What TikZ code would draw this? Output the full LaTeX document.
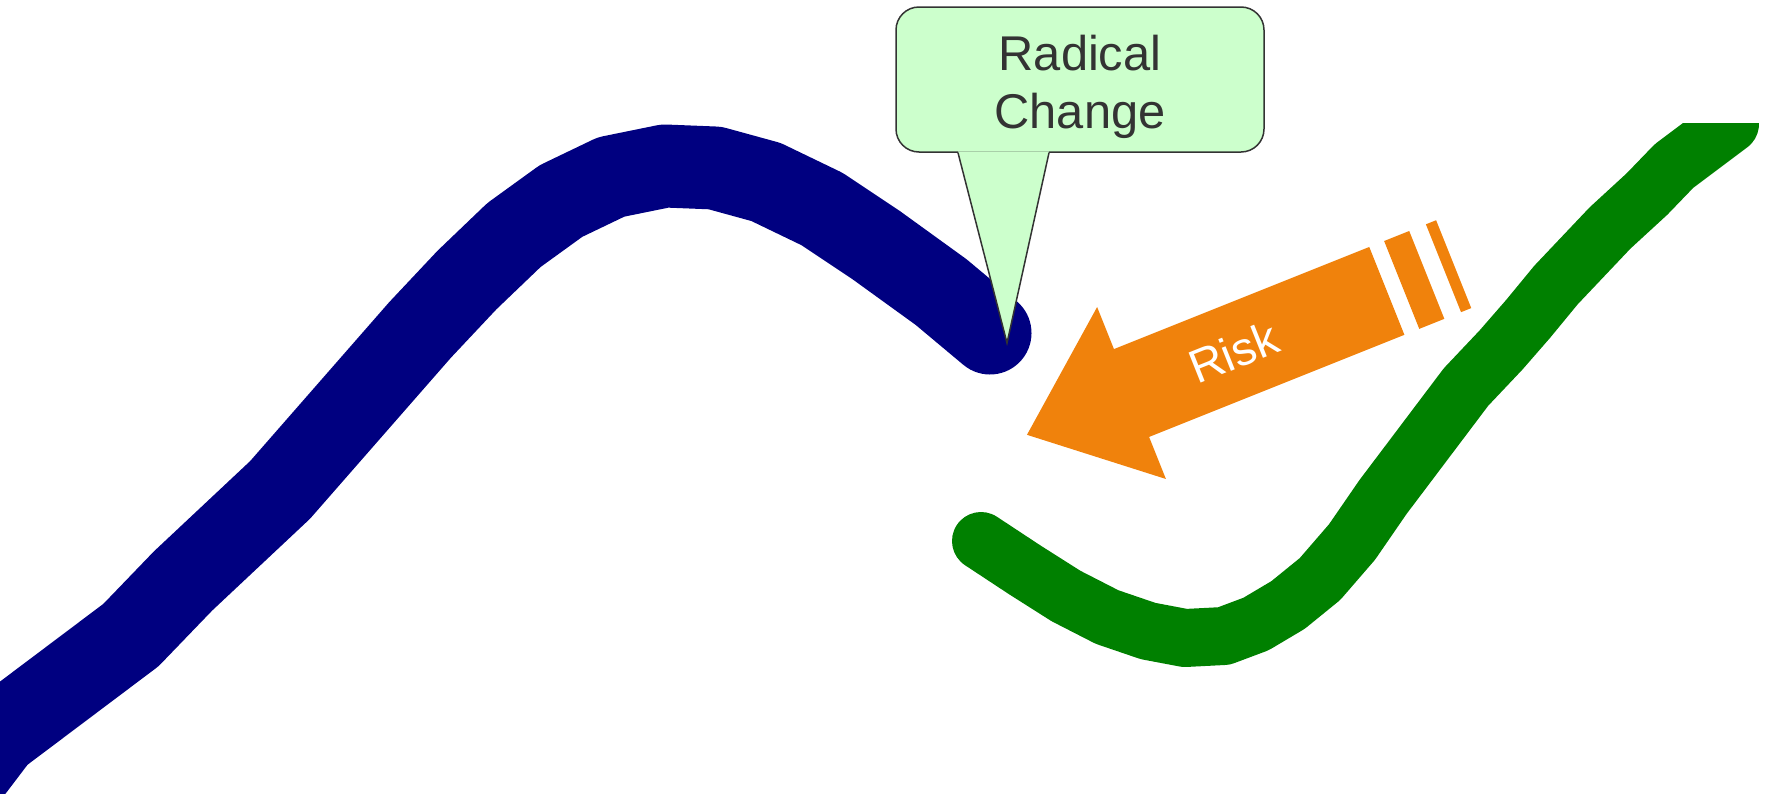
\documentclass[tikz,border=0pt]{standalone}
\usepackage{fontspec}
\setmainfont{Liberation Sans}
\usetikzlibrary{calc,positioning}

\definecolor{trendblue}{RGB}{0,0,128}
\definecolor{trendgreen}{RGB}{0,128,0}
\definecolor{riskorange}{RGB}{240,130,12}
\definecolor{bubblefill}{RGB}{204,255,204}
\definecolor{bubbleline}{RGB}{51,51,51}

\tikzset{
    trend/.style={line width=#1, line cap=round, line join=round},
    bubble/.style={draw=bubbleline, fill=bubblefill, line width=0.75pt,
        rounded corners=11.5pt, minimum width=184pt, minimum height=72.5pt,
        inner sep=0pt},
    bubblelabel/.style={inner sep=0pt, align=center, text=bubbleline,
        font=\fontsize{24.4}{29}\selectfont},
    risklabel/.style={text=white, inner sep=0pt,
        font=\fontsize{23.5}{26}\selectfont},
}

\begin{document}
\begin{tikzpicture}[x=0.5pt, y=-0.5pt]
    \useasboundingbox (0,0) rectangle (1766,793);

    \begin{scope}
        \clip (0,123) rectangle (1766,793);
        \draw[trend=41.5pt, trendblue] (-40,785) -- (-2,735) -- (131,635) -- (183,581)
            -- (280,490) -- (420,330) -- (467,280) -- (514,235) -- (561,201)
            -- (611,177) -- (665,166) -- (715,168) -- (766,182) -- (822,209)
            -- (876,245) -- (941,292) -- (990,333);
        \draw[trend=29pt, trendgreen] (981,541) -- (1025,570) -- (1066,596)
            -- (1107,617) -- (1148,631) -- (1185,638) -- (1224,636) -- (1256,624)
            -- (1288,605) -- (1320,579) -- (1352,542) -- (1383,497) -- (1423,444)
            -- (1466,387) -- (1501,350) -- (1528,319) -- (1556,285) -- (1610,228)
            -- (1647,194) -- (1674,166) -- (1730,124);
    \end{scope}

    \begin{scope}[shift={(1131.5,393)}, rotate=21.8]
        \fill[riskorange] (-112.6,0) -- (0,-92.6) -- (0,-47.3) -- (275,-47.3)
            -- (275,47.3) -- (0,47.3) -- (0,92.6) -- cycle;
        \fill[riskorange] (291,-47.3) rectangle (318,47.3);
        \fill[riskorange] (336,-47.3) rectangle (347,47.3);
        \node[risklabel, rotate=21.8] (risk) at (110,0) {Risk};
    \end{scope}

    \node[bubble] (radical) at (1080,79.5) {};
    \node[bubblelabel] (radicaltext) at ([yshift=-3.5pt]radical.center) {Radical\\Change};
    \coordinate (tip) at (1007,343);
    \fill[bubblefill] ($(radical.south)+(-122,-1.5)$) -- (tip)
        -- ($(radical.south)+(-31,-1.5)$) -- cycle;
    \draw[bubbleline, line width=0.75pt, line join=miter]
        ($(radical.south)+(-122,0)$) -- (tip) -- ($(radical.south)+(-31,0)$);
\end{tikzpicture}
\end{document}
